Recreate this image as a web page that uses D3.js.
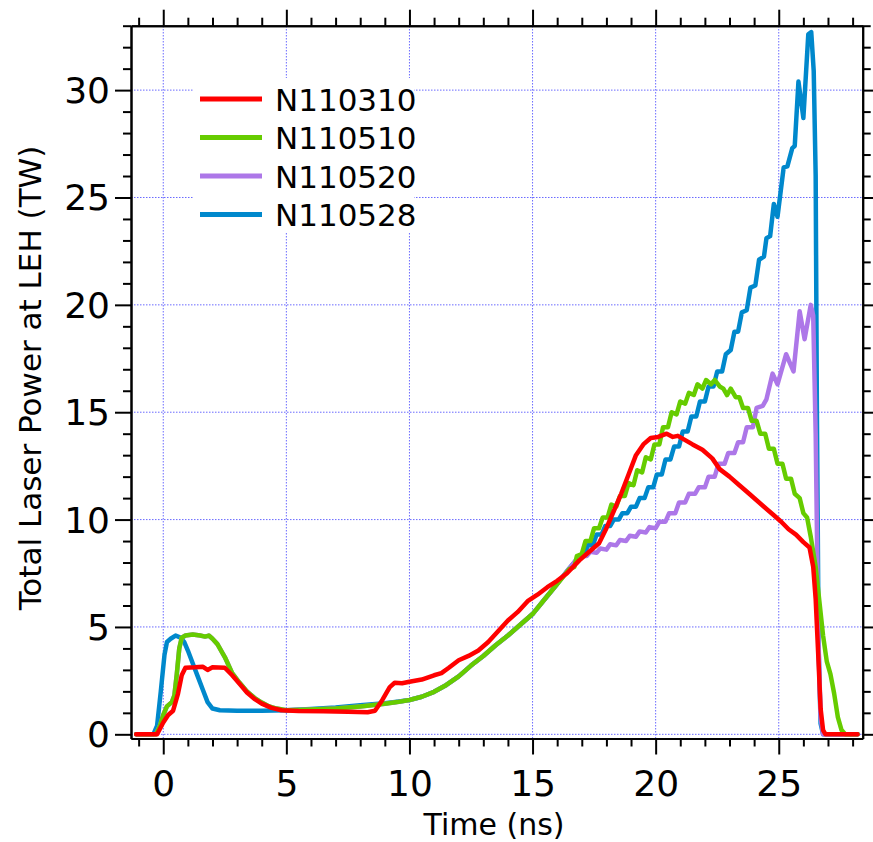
<!DOCTYPE html>
<html>

<head>
  <title>Total Laser Power at LEH</title>
  <script src="https://cdn.jsdelivr.net/npm/d3@7"></script>
  <style>
    body { margin: 0; background: #fff; }
    svg { display: block; font-family: 'DejaVu Sans', sans-serif; }
    .axis path, .axis line { stroke: #000; stroke-width: 2; }
    .grid line { stroke: #6a6aff; stroke-width: 1; stroke-dasharray: 1.5, 1.5; }
    .trace { fill: none; stroke-width: 4.5; stroke-linejoin: round; stroke-linecap: round; }
  </style>
</head>

<body>
  <svg id="chart" width="873" height="842"></svg>

  <script>
    // shot names, in legend order
    var shots = ['N110310', 'N110510', 'N110520', 'N110528'];
    var colors = ['#ff0000', '#66cc00', '#ad77e8', '#0088cc'];

    // [time (ns), power (TW)]
    var n110310 = [[-1.1, 0], [-0.25, 0], [0, 0.55], [0.2, 0.9], [0.4, 1.1], [0.6, 1.9], [0.75, 2.75], [0.9, 3.1],
      [1.3, 3.12], [1.6, 3.15], [1.8, 3.0], [2.0, 3.12], [2.5, 3.1], [2.8, 2.75], [3.1, 2.35], [3.4, 1.95],
      [3.7, 1.65], [4.0, 1.43], [4.4, 1.23], [4.8, 1.12], [5.5, 1.08], [6.5, 1.07], [7.5, 1.05], [8.3, 1.03],
      [8.6, 1.1], [8.9, 1.6], [9.2, 2.2], [9.4, 2.4], [9.7, 2.38], [10.0, 2.45], [10.5, 2.55], [11.0, 2.75],
      [11.3, 2.85], [11.6, 3.1], [12.0, 3.45], [12.4, 3.65], [12.8, 3.9], [13.2, 4.3], [13.6, 4.8], [14.0, 5.3],
      [14.4, 5.7], [14.8, 6.2], [15.2, 6.5], [15.6, 6.85], [16.0, 7.15], [16.4, 7.5], [16.9, 8.1], [17.3, 8.5],
      [17.7, 8.9], [18.0, 9.6], [18.3, 10.4], [18.6, 11.2], [18.9, 12.1], [19.2, 13.0], [19.5, 13.5], [19.8, 13.8],
      [20.1, 13.85], [20.45, 14.0], [20.7, 13.85], [20.9, 13.9], [21.2, 13.7], [21.5, 13.5], [21.9, 13.25],
      [22.3, 12.85], [22.6, 12.35], [23.0, 12.0], [23.4, 11.6], [23.8, 11.2], [24.1, 10.9], [24.4, 10.6],
      [24.8, 10.2], [25.1, 9.9], [25.4, 9.55], [25.7, 9.3], [26.0, 8.95], [26.25, 8.7], [26.4, 7.8], [26.5, 6.3],
      [26.6, 3.8], [26.7, 1.2], [26.8, 0.2], [26.9, 0], [28.2, 0]];

    var n110510 = [[-1.1, 0], [-0.3, 0], [-0.15, 0.35], [0, 0.9], [0.15, 1.3], [0.35, 1.5], [0.45, 1.8], [0.55, 2.8],
      [0.65, 4.0], [0.75, 4.5], [0.9, 4.6], [1.2, 4.65], [1.5, 4.6], [1.7, 4.55], [1.85, 4.6], [2.0, 4.45],
      [2.2, 4.2], [2.5, 3.6], [2.8, 2.85], [3.1, 2.4], [3.4, 2.0], [3.7, 1.7], [4.0, 1.48], [4.3, 1.3], [4.6, 1.2],
      [5.0, 1.12], [6.0, 1.15], [7.0, 1.2], [8.0, 1.3], [9.0, 1.42], [9.5, 1.5], [10.0, 1.6], [10.5, 1.75],
      [11.0, 1.98], [11.5, 2.3], [12.0, 2.7], [12.5, 3.2], [13.0, 3.65], [13.5, 4.15], [14.0, 4.6], [14.5, 5.1],
      [15.0, 5.6], [15.5, 6.3], [16.0, 7.0], [16.5, 7.7], [16.7, 7.8], [16.8, 8.3], [17.0, 8.4], [17.15, 9.0],
      [17.35, 9.0], [17.5, 9.6], [17.7, 9.6], [17.85, 10.1], [18.05, 10.1], [18.2, 10.7], [18.4, 10.6],
      [18.55, 11.1], [18.75, 11.1], [18.9, 11.7], [19.1, 11.6], [19.25, 12.3], [19.45, 12.2], [19.6, 12.9],
      [19.8, 12.8], [19.95, 13.5], [20.15, 13.5], [20.3, 14.3], [20.5, 14.3], [20.65, 15.0], [20.85, 14.9],
      [21.0, 15.5], [21.2, 15.4], [21.35, 15.9], [21.55, 15.8], [21.7, 16.3], [21.9, 16.1], [22.05, 16.5],
      [22.25, 16.3], [22.4, 16.5], [22.6, 16.2], [22.75, 16.1], [22.9, 15.8], [23.05, 16.1], [23.25, 15.7],
      [23.4, 15.7], [23.55, 15.2], [23.75, 15.2], [23.9, 14.6], [24.1, 14.6], [24.25, 14.0], [24.45, 14.0],
      [24.6, 13.3], [24.8, 13.3], [24.95, 12.6], [25.15, 12.6], [25.3, 11.9], [25.5, 11.9], [25.65, 11.2],
      [25.85, 11.0], [26.0, 10.3], [26.15, 10.1], [26.3, 9.2], [26.5, 7.8], [26.65, 6.2], [26.8, 4.6],
      [26.95, 3.4], [27.1, 2.8], [27.25, 1.9], [27.4, 0.8], [27.55, 0.2], [27.7, 0], [28.2, 0]];

    var n110520 = [[-1.1, 0], [-0.3, 0], [-0.15, 0.35], [0, 0.9], [0.15, 1.3], [0.35, 1.5], [0.45, 1.8], [0.55, 2.8],
      [0.65, 4.0], [0.75, 4.5], [0.9, 4.6], [1.2, 4.65], [1.5, 4.6], [1.7, 4.55], [1.85, 4.6], [2.0, 4.45],
      [2.2, 4.2], [2.5, 3.6], [2.8, 2.85], [3.1, 2.4], [3.4, 2.0], [3.7, 1.7], [4.0, 1.48], [4.3, 1.3], [4.6, 1.2],
      [5.0, 1.12], [6.0, 1.15], [7.0, 1.2], [8.0, 1.3], [9.0, 1.42], [9.5, 1.5], [10.0, 1.6], [10.5, 1.75],
      [11.0, 1.98], [11.5, 2.3], [12.0, 2.7], [12.5, 3.2], [13.0, 3.65], [13.5, 4.15], [14.0, 4.6], [14.5, 5.1],
      [15.0, 5.6], [15.5, 6.3], [16.0, 7.0], [16.4, 7.6], [16.9, 8.3], [17.2, 8.3], [17.35, 8.5], [17.6, 8.45],
      [17.75, 8.65], [18.0, 8.6], [18.15, 8.85], [18.4, 8.8], [18.55, 9.05], [18.8, 9.0], [18.95, 9.25],
      [19.2, 9.2], [19.35, 9.45], [19.6, 9.4], [19.75, 9.65], [20.0, 9.6], [20.15, 9.9], [20.4, 9.9],
      [20.55, 10.3], [20.8, 10.3], [20.95, 10.8], [21.2, 10.8], [21.35, 11.2], [21.6, 11.2], [21.75, 11.5],
      [22.0, 11.5], [22.15, 12.0], [22.4, 12.0], [22.55, 12.6], [22.8, 12.6], [22.95, 13.1], [23.2, 13.1],
      [23.35, 13.6], [23.55, 13.6], [23.7, 14.3], [23.95, 14.3], [24.1, 15.2], [24.35, 15.3], [24.5, 15.6],
      [24.75, 16.8], [24.95, 16.3], [25.3, 17.7], [25.6, 16.9], [25.85, 19.7], [26.05, 18.4], [26.3, 20.0],
      [26.4, 19.5], [26.5, 14.0], [26.6, 5.0], [26.7, 0.8], [26.8, 0], [28.2, 0]];

    var n110528 = [[-1.1, 0], [-0.4, 0], [-0.25, 0.4], [-0.1, 2.0], [0.05, 3.7], [0.15, 4.3], [0.3, 4.45],
      [0.5, 4.6], [0.7, 4.5], [0.85, 4.3], [1.0, 3.9], [1.2, 3.3], [1.4, 2.7], [1.6, 2.1], [1.8, 1.5], [2.0, 1.2],
      [2.3, 1.12], [3.0, 1.1], [4.0, 1.1], [5.0, 1.12], [6.0, 1.18], [7.0, 1.25], [8.0, 1.35], [9.0, 1.45],
      [9.5, 1.52], [10.0, 1.6], [10.5, 1.75], [11.0, 1.98], [11.5, 2.3], [12.0, 2.7], [12.5, 3.2], [13.0, 3.65],
      [13.5, 4.15], [14.0, 4.6], [14.5, 5.1], [15.0, 5.6], [15.5, 6.3], [16.0, 7.0], [16.4, 7.6], [16.9, 8.3],
      [17.1, 8.4], [17.25, 8.8], [17.45, 8.8], [17.6, 9.3], [17.8, 9.3], [17.95, 9.7], [18.15, 9.7], [18.3, 10.0],
      [18.5, 10.0], [18.65, 10.3], [18.85, 10.3], [19.0, 10.6], [19.2, 10.6], [19.35, 11.0], [19.55, 11.0],
      [19.7, 11.5], [19.9, 11.5], [20.05, 12.1], [20.25, 12.1], [20.4, 12.8], [20.6, 12.8], [20.75, 13.4],
      [20.95, 13.4], [21.1, 14.1], [21.3, 14.1], [21.45, 14.8], [21.65, 14.8], [21.8, 15.5], [22.0, 15.5],
      [22.15, 16.2], [22.35, 16.2], [22.5, 16.9], [22.7, 16.9], [22.85, 17.7], [23.05, 17.9], [23.2, 18.75],
      [23.35, 18.75], [23.5, 19.65], [23.7, 19.75], [23.85, 20.8], [24.05, 20.9], [24.2, 22.1], [24.4, 22.25],
      [24.5, 23.1], [24.65, 23.2], [24.8, 24.7], [24.95, 24.1], [25.2, 26.4], [25.35, 26.45], [25.55, 27.3],
      [25.65, 27.4], [25.8, 30.4], [26.0, 28.7], [26.2, 32.6], [26.32, 32.7], [26.42, 30.9], [26.5, 26.0],
      [26.55, 15.0], [26.62, 4.0], [26.7, 0.5], [26.8, 0], [28.2, 0]];

    var series = [n110310, n110510, n110520, n110528];

    var xMajor = [0, 5, 10, 15, 20, 25];
    var yMajor = [0, 5, 10, 15, 20, 25, 30];

    var svg = d3.select('#chart');

    var x = d3.scaleLinear().domain([-1.31, 28.41]).range([131, 862.7]);
    var y = d3.scaleLinear().domain([-0.195, 33]).range([738.5, 25.7]);

    var xMinor = d3.range(-1, 29).filter(d => xMajor.indexOf(d) < 0);
    var yMinor = d3.range(0, 34).filter(d => yMajor.indexOf(d) < 0);

    // dotted grid
    var grid = svg.append('g').attr('class', 'grid');
    grid.selectAll('.gx').data(xMajor).enter().append('line')
      .attr('x1', d => x(d)).attr('x2', d => x(d))
      .attr('y1', y.range()[0]).attr('y2', y.range()[1]);
    grid.selectAll('.gy').data(yMajor).enter().append('line')
      .attr('y1', d => y(d)).attr('y2', d => y(d))
      .attr('x1', x.range()[0]).attr('x2', x.range()[1]);

    // legend box hides the grid
    svg.append('rect')
      .attr('x', 194).attr('y', 78).attr('width', 220).attr('height', 155)
      .attr('fill', '#fff');

    // axes: major ticks 16px, minor 8px, on all four sides
    function addAxis(axisFn, scale, translate, major, minor, labels) {
      var g = svg.append('g').attr('class', 'axis').attr('transform', translate);
      g.call(axisFn(scale).tickValues(minor).tickSize(8).tickSizeOuter(0).tickFormat(''));
      var gm = svg.append('g').attr('class', 'axis').attr('transform', translate);
      gm.call(axisFn(scale).tickValues(major).tickSize(16).tickSizeOuter(0)
        .tickFormat(labels ? d3.format('d') : ''));
      gm.selectAll('text').attr('font-size', 36).attr('font-family', 'DejaVu Sans').attr('fill', '#000');
      return gm;
    }

    var bottom = addAxis(d3.axisBottom, x, 'translate(0,' + y.range()[0] + ')', xMajor, xMinor, true);
    bottom.selectAll('text').attr('y', 57.5).attr('dy', 0);
    addAxis(d3.axisTop, x, 'translate(0,' + y.range()[1] + ')', xMajor, xMinor, false);
    var left = addAxis(d3.axisLeft, y, 'translate(' + x.range()[0] + ',0)', yMajor, yMinor, true);
    left.selectAll('text').attr('x', -21).attr('dy', 12.5);
    addAxis(d3.axisRight, y, 'translate(' + x.range()[1] + ',0)', yMajor, yMinor, false);

    // traces, last shot drawn first
    var line = d3.line().x(d => x(d[0])).y(d => y(d[1]));
    d3.range(series.length).reverse().forEach(i => {
      svg.append('path')
        .attr('class', 'trace')
        .attr('d', line(series[i]))
        .attr('stroke', colors[i]);
    });

    // legend
    var legend = svg.selectAll('.legend').data(shots).enter().append('g')
      .attr('class', 'legend')
      .attr('transform', (d, i) => 'translate(0,' + (99 + i * 38.5) + ')');
    legend.append('line')
      .attr('x1', 200).attr('x2', 262)
      .attr('stroke', (d, i) => colors[i]).attr('stroke-width', 5);
    legend.append('text')
      .attr('x', 275).attr('y', 11.5)
      .attr('font-size', 31)
      .text(d => d);

    // axis titles
    svg.append('text')
      .attr('x', 494).attr('y', 835)
      .attr('text-anchor', 'middle').attr('font-size', 30)
      .text('Time (ns)');
    svg.append('text')
      .attr('transform', 'translate(41,378) rotate(-90)')
      .attr('text-anchor', 'middle').attr('font-size', 31)
      .text('Total Laser Power at LEH (TW)');
  </script>
</body>

</html>
